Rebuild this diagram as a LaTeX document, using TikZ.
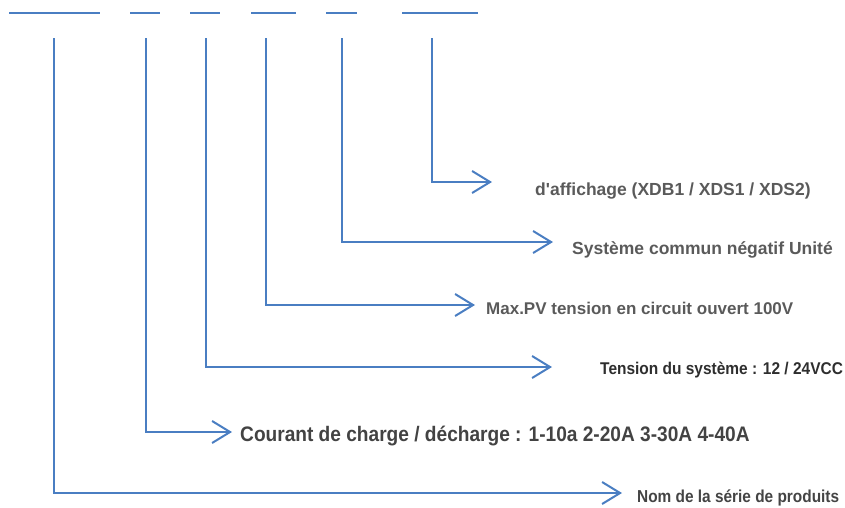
\documentclass[tikz,border=0pt]{standalone}
\usepackage{fontspec}
\setmainfont{Liberation Sans}
\newfontfamily\labfont{Liberation Sans}
\newfontfamily\narrowfont{Liberation Sans}[FakeStretch=0.91]
\newfontfamily\nomfont{Liberation Sans}[FakeStretch=0.89]
\usetikzlibrary{arrows.meta}
\definecolor{lineblue}{HTML}{4A7EC2}
\definecolor{txtgray}{HTML}{5A5A5A}
\definecolor{txtdark}{HTML}{2E2E2E}
\definecolor{txtnom}{HTML}{444444}
\begin{document}
\begin{tikzpicture}[x=1pt,y=-1pt,
  dashseg/.style={draw=lineblue, line width=2pt},
  conn/.style={draw=lineblue, line width=2pt, -{Straight Barb[length=18pt,width=22pt,line width=2pt]}},
  lbl/.style={anchor=base west, inner sep=0pt, font=\labfont\bfseries\fontsize{17.5}{20}\selectfont, text=txtgray},
  lblnarrow/.style={anchor=base west, inner sep=0pt, font=\narrowfont\bfseries\fontsize{17}{20}\selectfont, text=txtdark}]
\useasboundingbox (0,0) rectangle (845,507);
% top segments
\draw[dashseg] (9,12.5) -- (100,12.5);
\draw[dashseg] (130,12.5) -- (160,12.5);
\draw[dashseg] (190,12.5) -- (220,12.5);
\draw[dashseg] (251,12.5) -- (296,12.5);
\draw[dashseg] (326,12.5) -- (357,12.5);
\draw[dashseg] (402,12.5) -- (478,12.5);
% start points
\coordinate (s1) at (54,38);
\coordinate (s2) at (146,38);
\coordinate (s3) at (206,38);
\coordinate (s4) at (266,38);
\coordinate (s5) at (342,38);
\coordinate (s6) at (432,38);
% arrow tips
\coordinate (t6) at (492,182);
\coordinate (t5) at (553,242);
\coordinate (t4) at (475,305);
\coordinate (t3) at (552,367);
\coordinate (t2) at (232,432);
\coordinate (t1) at (622,493);
% labels
\node[lbl] (l6) at (535,195) {d'affichage (XDB1 / XDS1 / XDS2)};
\node[lbl] (l5) at (572,254) {Système commun négatif Unité};
\node[lbl, font=\labfont\bfseries\fontsize{17}{20}\selectfont] (l4) at (486,314.5) {Max.PV tension en circuit ouvert 100V};
\node[lblnarrow] (l3) at (600,374) {Tension du système : 12 / 24VCC};
\node[lblnarrow, font=\narrowfont\bfseries\fontsize{21}{24}\selectfont, text=txtdark!90!white] (l2) at (240,441.5) {Courant de charge / décharge : 1-10a 2-20A 3-30A 4-40A};
\node[lblnarrow, font=\nomfont\bfseries\fontsize{17.3}{20}\selectfont, text=txtnom] (l1) at (637,502.8) {Nom de la série de produits};
% connectors
\draw[conn] (s6) |- (t6);
\draw[conn] (s5) |- (t5);
\draw[conn] (s4) |- (t4);
\draw[conn] (s3) |- (t3);
\draw[conn] (s2) |- (t2);
\draw[conn] (s1) |- (t1);
\end{tikzpicture}
\end{document}
